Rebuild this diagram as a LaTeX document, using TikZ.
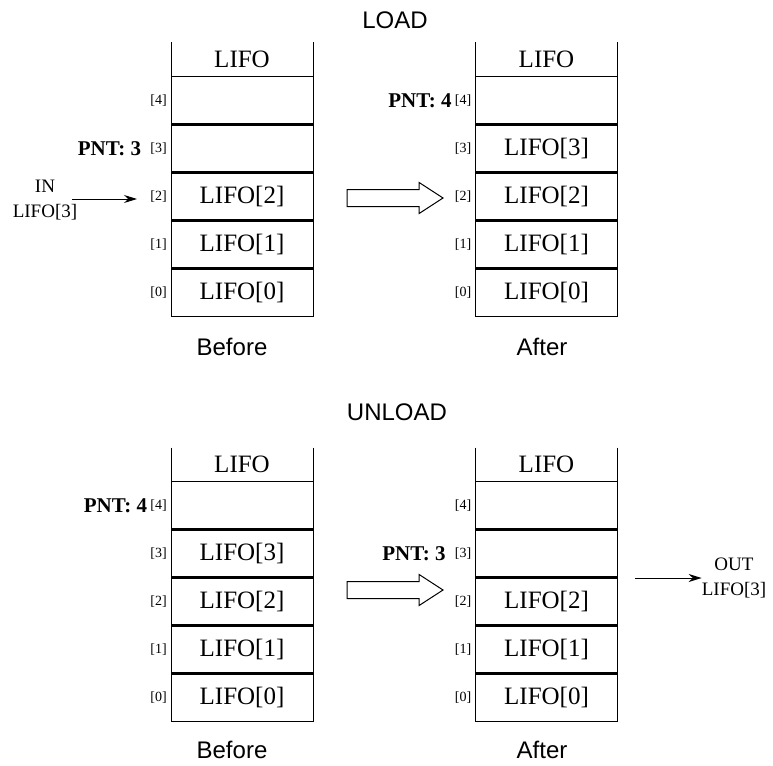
\documentclass[tikz,border=0pt]{standalone}
\usepackage{fontspec}
\setmainfont{Liberation Serif}
\setsansfont{Liberation Sans}
\usetikzlibrary{positioning,shapes.arrows,arrows.meta}

\begin{document}
\begin{tikzpicture}[x=1pt,y=-1pt,
    cell/.style={draw,line width=1pt,outer sep=0pt,inner sep=0pt,minimum width=142pt,minimum height=48pt,font=\fontsize{25}{25}\selectfont},
    head/.style={outer sep=0pt,inner sep=0pt,minimum width=142pt,minimum height=34pt,font=\fontsize{25}{25}\selectfont},
    sep/.style={line width=2.4pt},
    wall/.style={line width=1pt},
    idx/.style={inner sep=0pt,font=\fontsize{14}{14}\selectfont},
    pnt/.style={inner sep=0pt,font=\bfseries\fontsize{21}{21}\selectfont},
    sftext/.style={inner sep=0pt,font=\sffamily\fontsize{24}{24}\selectfont},
    io/.style={inner sep=0pt,align=center,font=\fontsize{19}{25}\selectfont},
    feed/.style={line width=1pt,-{Stealth[length=13pt,width=8pt]}},
    hollow/.style={single arrow,draw,line width=1pt,outer sep=0pt,inner xsep=0pt,inner ysep=8pt,minimum height=96pt,single arrow head extend=7pt,single arrow tip angle=66,anchor=tail}]
    \useasboundingbox (0,0) rectangle (773,765);
    % LOAD, before
    \node[sftext] (load) at (395,20) {LOAD};
    \node[cell] (a0) at (242,292.5) {LIFO[0]};
    \node[cell,above=0pt of a0] (a1) {LIFO[1]};
    \node[cell,above=0pt of a1] (a2) {LIFO[2]};
    \node[cell,above=0pt of a2] (a3) {};
    \node[cell,above=0pt of a3] (a4) {};
    \node[head,above=0pt of a4] (ah) {LIFO};
    \draw[wall] (ah.north west) -- (ah.south west);
    \draw[wall] (ah.north east) -- (ah.south east);
    \draw[sep] (a4.south west) -- (a4.south east);
    \draw[sep] (a3.south west) -- (a3.south east);
    \draw[sep] (a2.south west) -- (a2.south east);
    \draw[sep] (a1.south west) -- (a1.south east);
    \node[idx,left=4pt of a0] (ai0) {[0]};
    \node[idx,left=4pt of a1] (ai1) {[1]};
    \node[idx,left=4pt of a2] (ai2) {[2]};
    \node[idx,left=4pt of a3] (ai3) {[3]};
    \node[idx,left=4pt of a4] (ai4) {[4]};
    \node[pnt,left=9pt of ai3] (ap) {PNT: 3};
    \node[io] (in) at (45,200) {IN\\LIFO[3]};
    \coordinate (inS) at (72,199);
    \coordinate (inE) at (137,199);
    \draw[feed] (inS) -- (inE);
    \node[sftext] (abef) at (232,347) {Before};
    % LOAD, after
    \node[hollow] (ldarr) at (347,198) {};
    \node[cell] (b0) at (546.5,292.5) {LIFO[0]};
    \node[cell,above=0pt of b0] (b1) {LIFO[1]};
    \node[cell,above=0pt of b1] (b2) {LIFO[2]};
    \node[cell,above=0pt of b2] (b3) {LIFO[3]};
    \node[cell,above=0pt of b3] (b4) {};
    \node[head,above=0pt of b4] (bh) {LIFO};
    \draw[wall] (bh.north west) -- (bh.south west);
    \draw[wall] (bh.north east) -- (bh.south east);
    \draw[sep] (b4.south west) -- (b4.south east);
    \draw[sep] (b3.south west) -- (b3.south east);
    \draw[sep] (b2.south west) -- (b2.south east);
    \draw[sep] (b1.south west) -- (b1.south east);
    \node[idx,left=4pt of b0] (bi0) {[0]};
    \node[idx,left=4pt of b1] (bi1) {[1]};
    \node[idx,left=4pt of b2] (bi2) {[2]};
    \node[idx,left=4pt of b3] (bi3) {[3]};
    \node[idx,left=4pt of b4] (bi4) {[4]};
    \node[pnt,left=3pt of bi4] (bp) {PNT: 4};
    \node[sftext] (baft) at (542,347) {After};
    % UNLOAD, before
    \node[sftext] (unload) at (397,412) {UNLOAD};
    \node[cell] (c0) at (242,697.5) {LIFO[0]};
    \node[cell,above=0pt of c0] (c1) {LIFO[1]};
    \node[cell,above=0pt of c1] (c2) {LIFO[2]};
    \node[cell,above=0pt of c2] (c3) {LIFO[3]};
    \node[cell,above=0pt of c3] (c4) {};
    \node[head,above=0pt of c4] (ch) {LIFO};
    \draw[wall] (ch.north west) -- (ch.south west);
    \draw[wall] (ch.north east) -- (ch.south east);
    \draw[sep] (c4.south west) -- (c4.south east);
    \draw[sep] (c3.south west) -- (c3.south east);
    \draw[sep] (c2.south west) -- (c2.south east);
    \draw[sep] (c1.south west) -- (c1.south east);
    \node[idx,left=4pt of c0] (ci0) {[0]};
    \node[idx,left=4pt of c1] (ci1) {[1]};
    \node[idx,left=4pt of c2] (ci2) {[2]};
    \node[idx,left=4pt of c3] (ci3) {[3]};
    \node[idx,left=4pt of c4] (ci4) {[4]};
    \node[pnt,left=3pt of ci4] (cp) {PNT: 4};
    \node[sftext] (cbef) at (232,750) {Before};
    % UNLOAD, after
    \node[hollow] (ularr) at (347,590) {};
    \node[cell] (d0) at (546.5,697.5) {LIFO[0]};
    \node[cell,above=0pt of d0] (d1) {LIFO[1]};
    \node[cell,above=0pt of d1] (d2) {LIFO[2]};
    \node[cell,above=0pt of d2] (d3) {};
    \node[cell,above=0pt of d3] (d4) {};
    \node[head,above=0pt of d4] (dh) {LIFO};
    \draw[wall] (dh.north west) -- (dh.south west);
    \draw[wall] (dh.north east) -- (dh.south east);
    \draw[sep] (d4.south west) -- (d4.south east);
    \draw[sep] (d3.south west) -- (d3.south east);
    \draw[sep] (d2.south west) -- (d2.south east);
    \draw[sep] (d1.south west) -- (d1.south east);
    \node[idx,left=4pt of d0] (di0) {[0]};
    \node[idx,left=4pt of d1] (di1) {[1]};
    \node[idx,left=4pt of d2] (di2) {[2]};
    \node[idx,left=4pt of d3] (di3) {[3]};
    \node[idx,left=4pt of d4] (di4) {[4]};
    \node[pnt,left=9pt of di3] (dp) {PNT: 3};
    \node[io] (out) at (734,578) {OUT\\LIFO[3]};
    \coordinate (outS) at (635,578);
    \draw[feed] (outS) -- (out.west);
    \node[sftext] (daft) at (542,750) {After};
\end{tikzpicture}
\end{document}
